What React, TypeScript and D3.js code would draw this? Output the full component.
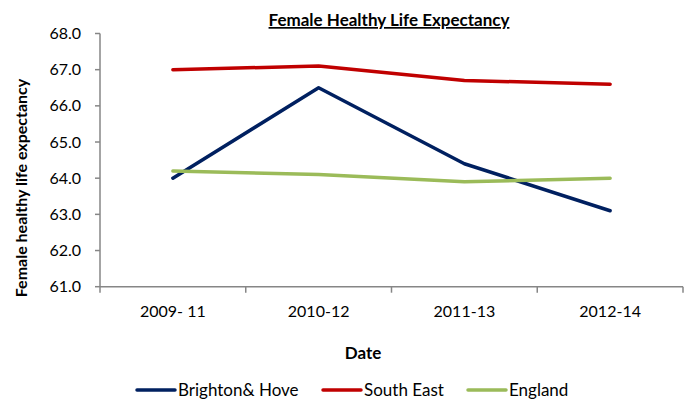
import React from "react";
import * as d3 from "d3";

const categories = ["2009- 11", "2010-12", "2011-13", "2012-14"];
const brighton = [64.0, 66.5, 64.4, 63.1];
const southEast = [67.0, 67.1, 66.7, 66.6];
const england = [64.2, 64.1, 63.9, 64.0];
const yTicks = [61, 62, 63, 64, 65, 66, 67, 68];
const seriesNames = ["Brighton& Hove", "South East", "England"];
const seriesColors = ["#002060", "#C00000", "#9BBB59"];

const W = 691;
const H = 400;
const FONT = "Lato, 'Open Sans', sans-serif";

export default function App() {
  const series = [brighton, southEast, england];
  const x = d3.scaleBand<string>().domain(categories).range([100, 683]).padding(0);
  const y = d3.scaleLinear().domain([61, 68]).range([286.7, 33.5]);
  const line = d3
    .line<number>()
    .x((_, i) => (x(categories[i]) as number) + x.bandwidth() / 2)
    .y((d) => y(d));
  const boundaries = [...categories.map((c) => x(c) as number), x.range()[1]];
  const legendX = [137, 323, 468];

  return (
    <svg width={W} height={H} style={{ position: "absolute", left: 0, top: 0, fontFamily: FONT }}>
      <rect x={0} y={0} width={W} height={H} fill="#fff" />
      <text x={389} y={26} textAnchor="middle" fontSize={17} fontWeight={700} fill="#000" textDecoration="underline">
        Female Healthy Life Expectancy
      </text>
      {/* axes */}
      <line x1={100} x2={100} y1={y(68)} y2={y(61)} stroke="#868686" strokeWidth={1.5} />
      <line x1={100} x2={683} y1={y(61)} y2={y(61)} stroke="#868686" strokeWidth={1.5} />
      {yTicks.map((t) => (
        <g key={t}>
          <line x1={95} x2={100} y1={y(t)} y2={y(t)} stroke="#868686" strokeWidth={1.5} />
          <text x={81} y={y(t)} dy="0.35em" textAnchor="end" fontSize={16} fill="#000">
            {t.toFixed(1)}
          </text>
        </g>
      ))}
      {boundaries.map((b, i) => (
        <line key={i} x1={b} x2={b} y1={y(61)} y2={y(61) + 6} stroke="#868686" strokeWidth={1.5} />
      ))}
      {categories.map((c) => (
        <text key={c} x={(x(c) as number) + x.bandwidth() / 2} y={317} textAnchor="middle" fontSize={16} fill="#000">
          {c}
        </text>
      ))}
      <text x={363} y={359} textAnchor="middle" fontSize={17} fontWeight={700} fill="#000">
        Date
      </text>
      <text
        transform={`translate(27,188) rotate(-90)`}
        textAnchor="middle"
        fontSize={16}
        fontWeight={700}
        fill="#000"
      >
        Female healthy life expectancy
      </text>
      {series.map((s, i) => (
        <path key={i} d={line(s) as string} fill="none" stroke={seriesColors[i]} strokeWidth={3.5} strokeLinejoin="round" strokeLinecap="round" />
      ))}
      {seriesNames.map((n, i) => (
        <g key={n}>
          <line x1={legendX[i]} x2={legendX[i] + 38} y1={390} y2={390} stroke={seriesColors[i]} strokeWidth={3.5} strokeLinecap="round" />
          <text x={legendX[i] + 41} y={390} dy="0.35em" fontSize={17} fill="#000">
            {n}
          </text>
        </g>
      ))}
    </svg>
  );
}
